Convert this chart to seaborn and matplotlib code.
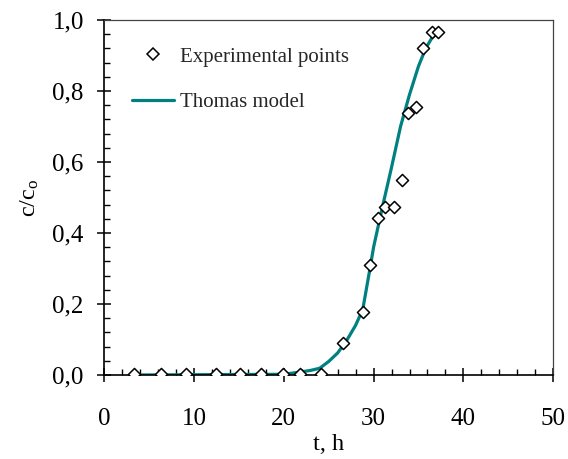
import matplotlib
matplotlib.use("Agg")
import matplotlib.pyplot as plt
import seaborn as sns
import pandas as pd
from matplotlib.lines import Line2D
from matplotlib.ticker import MultipleLocator

# Experimental points
t_exp = [3.3, 6.3, 9.1, 12.5, 15.1, 17.5, 19.9, 21.8, 24.2, 26.6, 28.8, 29.6,
         30.5, 31.3, 32.3, 33.2, 33.8, 34.7, 35.5, 36.5, 37.2]
c_exp = [0.002, 0.002, 0.002, 0.002, 0.002, 0.002, 0.002, 0.002, 0.002, 0.089, 0.178, 0.31,
         0.441, 0.472, 0.474, 0.549, 0.739, 0.756, 0.92, 0.965, 0.965]
# Thomas model curve
t_model = [3.3, 20.0, 22.0, 23.0, 24.0, 25.0, 26.0, 27.0, 28.0, 28.8, 29.6, 30.0,
           31.0, 32.0, 33.0, 34.0, 35.0, 35.8, 36.5, 37.2]
c_model = [0.0, 0.002, 0.009, 0.013, 0.019, 0.038, 0.062, 0.097, 0.14, 0.185, 0.30, 0.36,
           0.475, 0.585, 0.70, 0.79, 0.87, 0.92, 0.95, 0.967]

x_ticks = [0, 10, 20, 30, 40, 50]
x_tick_labels = ["0", "10", "20", "30", "40", "50"]
y_ticks = [0.0, 0.2, 0.4, 0.6, 0.8, 1.0]
y_tick_labels = ["0,0", "0,2", "0,4", "0,6", "0,8", "1,0"]

series_labels = ["Experimental points", "Thomas model"]
teal = "#008080"

sns.set_theme(style="ticks")
plt.rcParams["font.family"] = ["Liberation Serif", "DejaVu Serif"]
plt.rcParams["mathtext.fontset"] = "custom"
plt.rcParams["mathtext.rm"] = "Liberation Serif"
plt.rcParams["mathtext.it"] = "Liberation Serif:italic"

fs_tick = 18
fs_label = 17.5
fs_leg = 15

fig = plt.figure(figsize=(5.68, 4.59), dpi=100)
ax = fig.add_axes([104 / 568, 1 - 375 / 459, (553.3 - 104) / 568, (375 - 20) / 459])

df_exp = pd.DataFrame({"t": t_exp, "c": c_exp})
df_model = pd.DataFrame({"t": t_model, "c": c_model})

sns.lineplot(data=df_model, x="t", y="c", ax=ax, color=teal, linewidth=2.3,
             zorder=2, legend=False)
sns.scatterplot(data=df_exp, x="t", y="c", ax=ax, marker="D", s=38,
                facecolor="white", edgecolor="black", linewidth=1.1, zorder=3,
                legend=False)

ax.set_xlim(0, 50)
ax.set_ylim(0, 1.0)
ax.set_xticks(x_ticks)
ax.set_xticklabels(x_tick_labels, fontsize=fs_tick)
ax.set_yticks(y_ticks)
ax.set_yticklabels(y_tick_labels, fontsize=fs_tick)
ax.xaxis.set_minor_locator(MultipleLocator(2))
ax.yaxis.set_minor_locator(MultipleLocator(0.04))

ax.tick_params(axis="both", which="major", direction="inout", length=10,
               width=1.1, color="black", labelcolor="black")
ax.tick_params(axis="x", which="major", pad=19)
ax.tick_params(axis="y", which="major", pad=9.5)
ax.tick_params(axis="both", which="minor", direction="in", length=4,
               width=1.0, color="black")
ax.tick_params(top=False, right=False, which="both")

for side in ["left", "bottom"]:
    ax.spines[side].set_color("black")
    ax.spines[side].set_linewidth(1.2)
for side in ["top", "right"]:
    ax.spines[side].set_color("#444444")
    ax.spines[side].set_linewidth(0.9)
    ax.spines[side].set_visible(True)

ax.set_xlabel("t, h", fontsize=fs_label, color="black", labelpad=2.5)
ax.set_ylabel(r"c/c$_\mathrm{o}$", fontsize=fs_label, color="black", labelpad=8)

handles = [
    Line2D([], [], linestyle="none", marker="D", markersize=6.2,
           markerfacecolor="white", markeredgecolor="black", markeredgewidth=1.1),
    Line2D([], [], color=teal, linewidth=2.3),
]
ax.legend(handles, series_labels, loc="upper left", bbox_to_anchor=(0.062, 0.924),
          frameon=False, fontsize=fs_leg, handlelength=2.0, handletextpad=0.3,
          labelspacing=1.25, borderpad=0, borderaxespad=0)

ax.set_facecolor("white")
fig.patch.set_facecolor("white")
fig.savefig("out.png", dpi=100, facecolor="white")
